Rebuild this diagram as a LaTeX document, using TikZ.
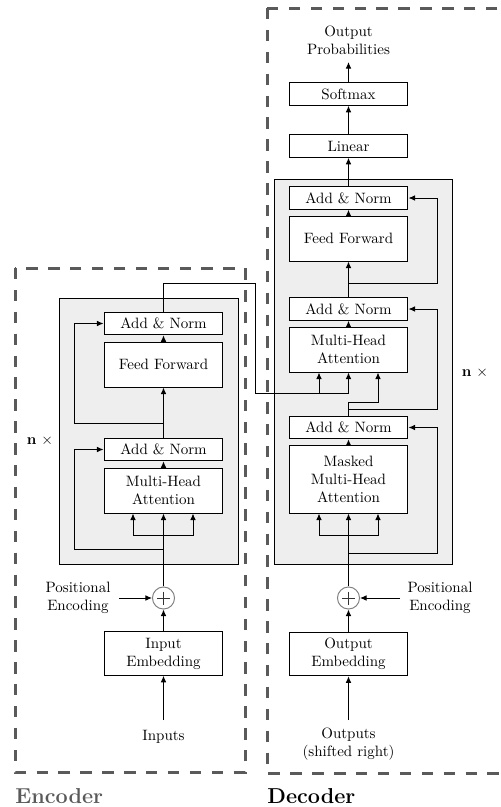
\documentclass[tikz,border=0pt]{standalone}
\usetikzlibrary{arrows.meta,calc}
\definecolor{framegray}{HTML}{5A5A5A}
\definecolor{stackgray}{HTML}{EEEEEE}
\begin{document}
\begin{tikzpicture}[x=0.6667pt,y=-0.6667pt,
  line width=0.65pt,
  >={Latex[length=4.4pt,width=3.8pt]},
  blk/.style={draw,fill=white,minimum width=79.3pt,inner sep=0pt,align=center},
  addnorm/.style={blk,minimum height=15pt},
  sublayer/.style={blk,minimum height=30pt},
  tall/.style={blk,minimum height=44.7pt},
  embed/.style={blk,minimum height=29pt},
  txt/.style={align=center,inner sep=0pt},
  plus/.style={circle,draw=gray,minimum size=14.7pt,inner sep=0pt,
    path picture={
      \draw[black!80] (path picture bounding box.center) ++(-6.5,0) -- ++(13,0);
      \draw[black!80] (path picture bounding box.center) ++(0,-6.5) -- ++(0,13);
    }},
  frame/.style={draw=framegray,line width=2pt,dash pattern=on 7.6pt off 7pt},
  stack/.style={draw,fill=stackgray}
]
\useasboundingbox (0,0) rectangle (500,807);
\clip (0,0) rectangle (500,807);

% dashed frames
\draw[frame] (15,268) rectangle (245,772);
\draw[frame] (267,8) rectangle (515,773);
\node[anchor=base west,inner sep=0pt,font=\Large\bfseries,text=framegray] (enclabel) at (15,803.5) {Encoder};
\node[anchor=base west,inner sep=0pt,font=\Large\bfseries] (declabel) at (267,803) {Decoder};

% shaded layer stacks
\draw[stack] (59,298) rectangle (238,564);
\draw[stack] (274,179) rectangle (452,564);
\node[txt] (encn) at (40,441) {$\mathbf{n}\ \times$};
\node[txt] (decn) at (475,373) {$\mathbf{n}\ \times$};

% ---------------- encoder ----------------
\node[addnorm]  (ean2) at (163.5,323.5) {Add \& Norm};
\node[sublayer] (eff)  at (163.5,364.5) {Feed Forward};
\node[addnorm]  (ean1) at (163.5,449.5) {Add \& Norm};
\node[sublayer] (emha) at (163.5,490.5) {Multi-Head\\Attention};
\node[plus]     (eplus) at (163.5,598) {};
\node[embed]    (eemb) at (163.5,653.5) {Input\\Embedding};
\node[txt]      (einputs) at (163.5,737) {Inputs};
\node[txt]      (epostxt) at (78,598) {Positional\\Encoding};

\coordinate (einp) at (163.5,720);
\coordinate (epos) at (119,598);
\coordinate (ebr)  at (163.5,535);
\coordinate (eres1) at (163.5,549);
\coordinate (eres2) at (163.5,423);

\draw[->] (einp) -- (eemb);
\draw[->] (eemb) -- (eplus);
\draw[->] (epos) -- (eplus);
\draw[->] (eplus) -- (emha);
\draw[->] (ebr) -| ($(emha.south)+(-30.5,0)$);
\draw[->] (ebr) -| ($(emha.south)+(29.5,0)$);
\draw[->] (eres1) -- (74,549) |- (ean1.west);
\draw[->] (emha) -- (ean1);
\draw[->] (ean1) -- (eff);
\draw[->] (eres2) -- (74,423) |- (ean2.west);
\draw[->] (eff) -- (ean2);

% ---------------- decoder ----------------
\node[blk,minimum height=15pt] (dsoft) at (348.5,94) {Softmax};
\node[blk,minimum height=15pt] (dlin)  at (348.5,146) {Linear};
\node[addnorm]  (dan3) at (348.5,198) {Add \& Norm};
\node[sublayer] (dff)  at (348.5,238.5) {Feed Forward};
\node[addnorm]  (dan2) at (348.5,309) {Add \& Norm};
\node[sublayer] (dmha) at (348.5,349.5) {Multi-Head\\Attention};
\node[addnorm]  (dan1) at (348.5,427.5) {Add \& Norm};
\node[tall]     (dmmha) at (348.5,479.5) {Masked\\Multi-Head\\Attention};
\node[plus]     (dplus) at (348.5,598) {};
\node[embed]    (demb) at (348.5,654) {Output\\Embedding};
\node[txt]      (doutputs) at (348.5,744) {Outputs\\(shifted right)};
\node[txt]      (dpostxt) at (440,598) {Positional\\Encoding};
\node[txt]      (dprob) at (348.5,40) {Output\\Probabilities};

\coordinate (dinp) at (348.5,720);
\coordinate (dpos) at (400,598);
\coordinate (dbr)  at (348.5,535);
\coordinate (dres1) at (348.5,553);
\coordinate (dres2) at (348.5,409);
\coordinate (dres3) at (348.5,283);
\coordinate (dout) at (348.5,62);

\draw[->] (dinp) -- (demb);
\draw[->] (demb) -- (dplus);
\draw[->] (dpos) -- (dplus);
\draw[->] (dplus) -- (dmmha);
\draw[->] (dbr) -| ($(dmmha.south)+(-29.5,0)$);
\draw[->] (dbr) -| ($(dmmha.south)+(29.5,0)$);
\draw[->] (dres1) -- (437,553) |- (dan1.east);
\draw[->] (dmmha) -- (dan1);
\draw[->] (dan1.north) -- (348.5,402) -| ($(dmha.south)+(29.5,0)$);
\draw[->] (dres2) -- (437,409) |- (dan2.east);
\draw[->] (dmha) -- (dan2);
\draw[->] (dan2) -- (dff);
\draw[->] (dres3) -- (437,283) |- (dan3.east);
\draw[->] (dff) -- (dan3);
\draw[->] (dan3) -- (dlin);
\draw[->] (dlin) -- (dsoft);
\draw[->] (dsoft) -- (dout);

% encoder output feeding the decoder attention
\coordinate (ebr2) at (319,393);
\draw[->] (ean2.north) -- (163.5,283) -| (255,393) -| (dmha.south);
\draw[->] (ebr2) -- ($(dmha.south)+(-29.5,0)$);
\end{tikzpicture}
\end{document}
